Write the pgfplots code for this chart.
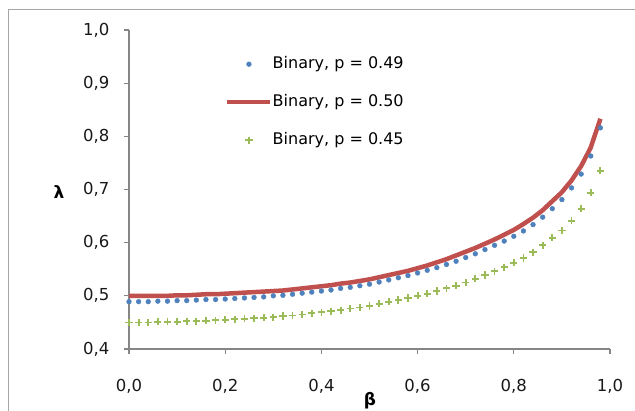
\documentclass[border=0pt]{standalone}
\usepackage{pgfplots}
\pgfplotsset{compat=1.18}
\usepackage{fontspec}
\setmainfont{DejaVu Sans}
\definecolor{sblue}{HTML}{4F81BD}
\definecolor{sred}{HTML}{C0504D}
\definecolor{sgreen}{HTML}{9BBB59}
\definecolor{axgray}{HTML}{868686}
\definecolor{framegray}{HTML}{A6A6A6}
\pgfplotsset{
  markleg/.style={legend image code/.code={\draw[mark repeat=2,mark phase=2,##1] plot coordinates {(0pt,0pt) (21.5pt,0pt) (43pt,0pt)};}},
  lineleg/.style={legend image code/.code={\draw[##1] (0pt,0pt) -- (43pt,0pt);}},
}
\pgfplotstableread{
b l
0.00 0.489
0.02 0.489
0.04 0.489
0.06 0.490
0.08 0.490
0.10 0.491
0.12 0.491
0.14 0.492
0.16 0.493
0.18 0.493
0.20 0.494
0.22 0.495
0.24 0.496
0.26 0.497
0.28 0.498
0.30 0.500
0.32 0.501
0.34 0.503
0.36 0.505
0.38 0.507
0.40 0.509
0.42 0.511
0.44 0.514
0.46 0.516
0.48 0.519
0.50 0.522
0.52 0.526
0.54 0.530
0.56 0.534
0.58 0.538
0.60 0.543
0.62 0.548
0.64 0.553
0.66 0.559
0.68 0.565
0.70 0.572
0.72 0.579
0.74 0.587
0.76 0.595
0.78 0.603
0.80 0.612
0.82 0.622
0.84 0.634
0.86 0.648
0.88 0.664
0.90 0.681
0.92 0.703
0.94 0.729
0.96 0.763
0.98 0.816
}\blue
\pgfplotstableread{
b l
0.00 0.500
0.02 0.500
0.04 0.500
0.06 0.500
0.08 0.500
0.10 0.501
0.12 0.501
0.14 0.502
0.16 0.503
0.18 0.503
0.20 0.504
0.22 0.505
0.24 0.506
0.26 0.507
0.28 0.508
0.30 0.509
0.32 0.510
0.34 0.512
0.36 0.514
0.38 0.516
0.40 0.518
0.42 0.520
0.44 0.523
0.46 0.525
0.48 0.528
0.50 0.531
0.52 0.535
0.54 0.539
0.56 0.543
0.58 0.547
0.60 0.552
0.62 0.557
0.64 0.563
0.66 0.569
0.68 0.576
0.70 0.583
0.72 0.590
0.74 0.598
0.76 0.606
0.78 0.615
0.80 0.624
0.82 0.635
0.84 0.647
0.86 0.661
0.88 0.678
0.90 0.695
0.92 0.717
0.94 0.744
0.96 0.779
0.98 0.833
}\red
\pgfplotstableread{
b l
0.00 0.450
0.02 0.450
0.04 0.450
0.06 0.451
0.08 0.451
0.10 0.451
0.12 0.452
0.14 0.452
0.16 0.453
0.18 0.454
0.20 0.455
0.22 0.456
0.24 0.457
0.26 0.458
0.28 0.459
0.30 0.460
0.32 0.462
0.34 0.463
0.36 0.465
0.38 0.467
0.40 0.469
0.42 0.471
0.44 0.473
0.46 0.476
0.48 0.478
0.50 0.481
0.52 0.485
0.54 0.489
0.56 0.492
0.58 0.496
0.60 0.500
0.62 0.504
0.64 0.509
0.66 0.514
0.68 0.519
0.70 0.525
0.72 0.532
0.74 0.539
0.76 0.546
0.78 0.554
0.80 0.562
0.82 0.571
0.84 0.582
0.86 0.595
0.88 0.609
0.90 0.623
0.92 0.641
0.94 0.664
0.96 0.694
0.98 0.735
}\green
\begin{document}
\fontsize{16}{19}\selectfont
\begin{tikzpicture}[x=1pt,y=1pt]
\draw[color=framegray, line width=1pt] (8,-2) -- (8,400) -- (637,400);
\begin{axis}[
  scale only axis, width=481pt, height=319pt,
  at={(129pt,61pt)}, anchor=south west,
  xmin=0, xmax=1, ymin=0.4, ymax=1,
  axis lines*=left,
  axis line style={-, color=axgray, line width=1.8pt},
  tick align=outside, major tick length=5pt,
  tick style={color=axgray, line width=1.2pt},
  xtick={0,0.2,0.4,0.6,0.8,1.0},
  ytick={0.4,0.5,0.6,0.7,0.8,0.9,1.0},
  minor tick num=0,
  clip=false,
  /pgf/number format/assume math mode=true,
  /pgf/number format/.cd, use comma, fixed, fixed zerofill, precision=1,
  /pgfplots/.cd,
  tick label style={font=\fontsize{16.5}{18}\selectfont, text=black!90},
  xticklabel style={yshift=-20pt},
  yticklabel style={xshift=-9pt},
  legend cell align=left,
  legend style={at={(0.1996,0.9185)}, anchor=north west, draw=none, fill=none,
    inner sep=0pt, row sep=22pt, font=\fontsize{16}{19}\selectfont,
    nodes={inner sep=0pt, text height=12pt, text depth=4pt}},
]
\addplot[only marks, mark=*, mark size=2.4pt, color=sblue, markleg]
  table[x=b,y=l] {\blue};
\addlegendentry{Binary, p = 0.49}
\addplot[no marks, color=sred, line width=4.5pt, lineleg]
  table[x=b,y=l] {\red};
\addlegendentry{Binary, p = 0.50}
\addplot[only marks, mark=+, mark size=3.6pt, color=sgreen, line width=1.8pt, markleg]
  table[x=b,y=l] {\green};
\addlegendentry{Binary, p = 0.45}
\end{axis}
\node[font=\fontsize{17}{19}\selectfont\bfseries] at (59,218) {λ};
\node[font=\fontsize{17}{19}\selectfont\bfseries] at (370,9) {β};
\pgfresetboundingbox
\path[use as bounding box] (0,0) rectangle (635,410);
\end{tikzpicture}
\end{document}
